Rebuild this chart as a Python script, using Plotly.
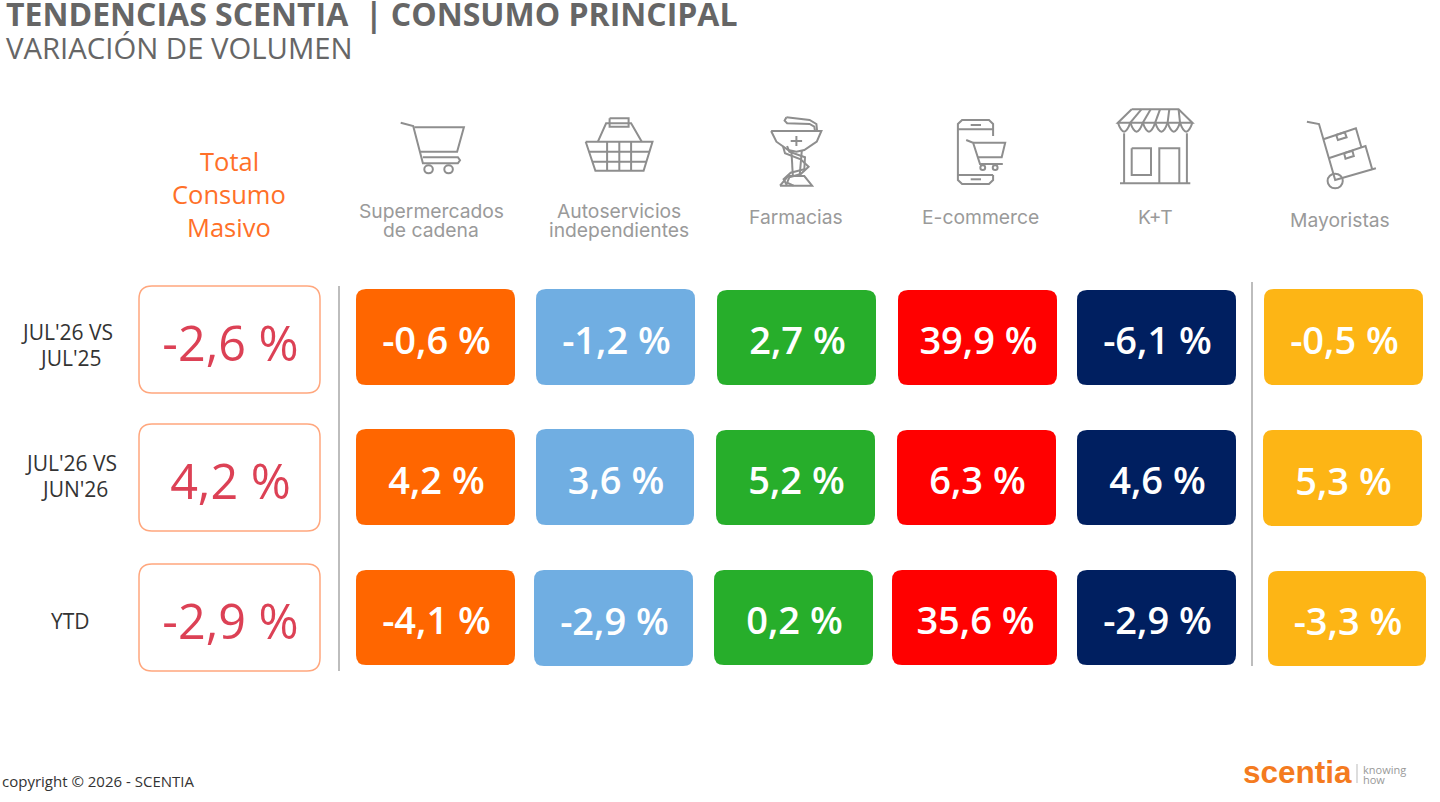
import plotly.graph_objects as go

# --- DATOS ---
periodos = [["JUL'26 VS", "JUL'25"], ["JUL'26 VS", "JUN'26"], ["YTD"]]
canales = [["Supermercados", "de cadena"], ["Autoservicios", "independientes"], ["Farmacias"],
           ["E-commerce"], ["K+T"], ["Mayoristas"]]
total_consumo = [-2.6, 4.2, -2.9]
supermercados = [-0.6, 4.2, -4.1]
autoservicios = [-1.2, 3.6, -2.9]
farmacias = [2.7, 5.2, 0.2]
ecommerce = [39.9, 6.3, 35.6]
kioscos = [-6.1, 4.6, -2.9]
mayoristas = [-0.5, 5.3, -3.3]

# --- GEOMETRIA DE LA LAMINA (pixeles) ---
ANCHO, ALTO = 1440, 802
colores = ["#FF6600", "#70AEE2", "#27AE2B", "#FF0000", "#001F60", "#FDB515"]
cajas_total = [(139, 320, 286, 393), (139, 320, 424, 531), (139, 320, 564, 671)]
cajas = [
    [(356, 515, 289, 385), (356, 515, 429, 525), (356, 515, 570, 665)],
    [(536, 695, 289, 385), (536, 694, 429, 525), (534, 693, 570, 666)],
    [(717, 876, 290, 385), (716, 875, 430, 525), (714, 873, 570, 665)],
    [(898, 1057, 290, 385), (897, 1056, 430, 525), (892, 1057, 570, 665)],
    [(1077, 1236, 290, 385), (1077, 1236, 430, 525), (1077, 1236, 570, 665)],
    [(1264, 1423, 289, 385), (1263, 1422, 430, 526), (1268, 1426, 571, 666)],
]
GRIS_ICONO = "#8E8E8E"
FUENTE = "Open Sans"


def fmt(v):
    return f"{v:.1f}".replace(".", ",") + " %"


def caja_path(x0, x1, y0, y1, r):
    return (f"M{x0 + r},{y0} L{x1 - r},{y0} Q{x1},{y0} {x1},{y0 + r} L{x1},{y1 - r} Q{x1},{y1} {x1 - r},{y1} "
            f"L{x0 + r},{y1} Q{x0},{y1} {x0},{y1 - r} L{x0},{y0 + r} Q{x0},{y0} {x0 + r},{y0} Z")


fig = go.Figure()


def agregar_caja(caja, r, relleno, borde, ancho):
    fig.add_shape(type="path", path=caja_path(*caja, r), fillcolor=relleno,
                  line=dict(color=borde, width=ancho), layer="below")


def texto(x, y, t, size, color, anchor="center", weight=400, familia=FUENTE):
    fig.add_annotation(x=x, y=y, text=t, showarrow=False, xanchor=anchor, yanchor="middle",
                       font=dict(family=familia, size=size, color=color, weight=weight))


def trazos(lineas, ox, oy, sx, sy, ancho=2):
    for pts in lineas:
        p = "M" + " L".join(f"{ox + x / sx:.1f},{oy + y / sy:.1f}" for x, y in pts)
        fig.add_shape(type="path", path=p, line=dict(color=GRIS_ICONO, width=ancho), layer="below")


def circulo(cx, cy, r, ox, oy, sx, sy, ancho=2):
    x, y, rx, ry = ox + cx / sx, oy + cy / sy, r / sx, r / sy
    k = 0.55
    p = (f"M{x - rx},{y} C{x - rx},{y - k * ry} {x - k * rx},{y - ry} {x},{y - ry} "
         f"C{x + k * rx},{y - ry} {x + rx},{y - k * ry} {x + rx},{y} "
         f"C{x + rx},{y + k * ry} {x + k * rx},{y + ry} {x},{y + ry} "
         f"C{x - k * rx},{y + ry} {x - rx},{y + k * ry} {x - rx},{y} Z")
    fig.add_shape(type="path", path=p, line=dict(color=GRIS_ICONO, width=ancho), layer="below")


Z1 = (340, 100, 2.8, 3)
Z2 = (900, 100, 2.9, 3)

# carrito
trazos([[(170, 68), (205, 78), (232, 190), (330, 190), (336, 181), (330, 172), (232, 172)],
        [(208, 82), (347, 82), (328, 155), (224, 155)]], *Z1)
circulo(248, 208, 12, *Z1)
circulo(304, 208, 12, *Z1)
# canasta
trazos([[(722, 125), (745, 70), (815, 70), (845, 125)],
        [(755, 55), (808, 55), (808, 80), (755, 80), (755, 55)],
        [(688, 125), (875, 125), (850, 212), (715, 212), (688, 125)],
        [(697, 155), (866, 155)], [(706, 185), (858, 185)],
        [(748, 125), (748, 212)], [(782, 125), (782, 212)], [(815, 125), (815, 212)]], *Z1)
# farmacia
trazos([[(1207, 93), (1348, 93), (1335, 125), (1300, 150), (1278, 155), (1255, 150), (1222, 125), (1207, 93)],
        [(1264, 152), (1268, 230)], [(1293, 152), (1287, 230)],
        [(1232, 257), (1255, 228), (1300, 228), (1322, 257), (1232, 257)],
        [(1278, 108), (1278, 138)], [(1262, 123), (1294, 123)],
        [(1250, 52), (1245, 62), (1252, 70), (1315, 72), (1328, 80), (1330, 93)],
        [(1250, 52), (1315, 60), (1334, 72), (1336, 93)],
        [(1240, 138), (1246, 160), (1290, 178), (1312, 200), (1290, 222), (1258, 232), (1252, 248), (1270, 257)],
        [(1252, 138), (1258, 155), (1302, 172), (1300, 208), (1262, 218), (1242, 238), (1252, 257)]], *Z1)
# telefono con carrito
trazos([[(270, 108), (270, 72), (258, 60), (180, 60), (168, 72), (168, 240), (180, 252), (258, 252),
         (270, 240), (270, 225)],
        [(168, 88), (270, 88)], [(168, 225), (270, 225)], [(205, 75), (235, 75)], [(205, 238), (235, 238)],
        [(192, 120), (212, 128), (232, 192), (298, 192)], [(212, 128), (305, 128), (295, 172), (225, 172)]], *Z2)
circulo(240, 203, 7, *Z2)
circulo(276, 203, 7, *Z2)
# tienda
trazos([[(672, 28), (808, 28), (848, 68), (632, 68), (672, 28)],
        [(700, 28), (668, 68)], [(727, 28), (704, 68)], [(754, 28), (740, 68)], [(781, 28), (776, 68)],
        [(808, 28), (812, 68)],
        [(650, 100), (650, 250)], [(832, 100), (832, 250)], [(638, 250), (842, 250)],
        [(672, 145), (728, 145), (728, 225), (672, 225), (672, 145)],
        [(752, 250), (752, 145), (810, 145), (810, 250)]], *Z2)
for i in range(6):
    x_tol = 632 + i * 36
    fig.add_shape(type="path",
                  path=f"M{900 + x_tol / 2.9:.1f},{100 + 68 / 3:.1f} Q{900 + (x_tol + 18) / 2.9:.1f},{100 + 122 / 3:.1f} "
                       f"{900 + (x_tol + 36) / 2.9:.1f},{100 + 68 / 3:.1f}",
                  line=dict(color=GRIS_ICONO, width=2), layer="below")
# carretilla
trazos([[(1180, 65), (1215, 72), (1262, 240), (1380, 205)],
        [(1243, 175), (1350, 138), (1370, 210)],
        [(1228, 118), (1322, 85), (1338, 142)],
        [(1265, 105), (1290, 97), (1295, 112), (1270, 120), (1265, 105)],
        [(1288, 160), (1312, 152), (1316, 168), (1292, 176), (1288, 160)]], *Z2)
circulo(1262, 243, 22, *Z2)

# Cajas del total y de los canales
for caja in cajas_total:
    agregar_caja(caja, 13, "#FFFFFF", "#FFA77E", 1.5)
for j, fila_cajas in enumerate(cajas):
    for caja in fila_cajas:
        agregar_caja(caja, 10, colores[j], colores[j], 0)

# Separadores
fig.add_shape(type="line", x0=339, x1=339, y0=286, y1=671, line=dict(color="#BDBDBD", width=2))
fig.add_shape(type="line", x0=1252, x1=1252, y0=282, y1=666, line=dict(color="#BDBDBD", width=2))

# Valores
fig.add_trace(go.Scatter(
    x=[(c[0] + c[1]) / 2 + 1 for c in cajas_total], y=[(c[2] + c[3]) / 2 + 9 for c in cajas_total],
    text=[fmt(v) for v in total_consumo], mode="text", hoverinfo="skip", cliponaxis=False,
    textfont=dict(family=FUENTE, size=48.5, color="#DC4155", weight=500)))
for j, serie in enumerate([supermercados, autoservicios, farmacias, ecommerce, kioscos, mayoristas]):
    fig.add_trace(go.Scatter(
        x=[(c[0] + c[1]) / 2 + 1 for c in cajas[j]], y=[(c[2] + c[3]) / 2 + 7 for c in cajas[j]],
        text=[fmt(v) for v in serie], mode="text", hoverinfo="skip", cliponaxis=False,
        textfont=dict(family=FUENTE, size=38, color="#FFFFFF", weight=600)))

# Titulos
texto(4, 13, "TENDENCIAS SCENTIA  | CONSUMO PRINCIPAL", 32, "#666666", "left", 700)
texto(4, 48, "VARIACIÓN DE VOLUMEN", 29.3, "#666666", "left")
texto(0, 781, "copyright © 2026 - SCENTIA", 15, "#333333", "left")

# Encabezados
for y, t in zip([161, 194, 227], ["Total", "Consumo", "Masivo"]):
    texto(229, y, t, 25.5, "#FF7028")
cx_canales = [431, 619, 796, 980, 1155, 1340]
cy_canales = [[211, 230], [211, 230], [217], [217], [217], [220]]
for x, ys, lineas in zip(cx_canales, cy_canales, canales):
    for y, t in zip(ys, lineas):
        texto(x, y, t, 19.3, "#9A9A9A", familia="Inter")

# Periodos
cx_periodos = [[67, 70], [71, 74], [70]]
cy_periodos = [[332, 358], [463, 489], [621]]
for xs, ys, lineas in zip(cx_periodos, cy_periodos, periodos):
    for x, y, t in zip(xs, ys, lineas):
        texto(x, y, t, 21, "#333333")

# Logo
texto(1241, 772, "scentia", 31.5, "#F47B20", "left", 700, "Liberation Sans")
fig.add_shape(type="line", x0=1357, x1=1357, y0=764, y1=783, line=dict(color="#BBBBBB", width=1))
texto(1361, 769, "knowing", 11, "#999999", "left")
texto(1361, 779, "how", 11, "#999999", "left")

fig.update_layout(
    width=ANCHO, height=ALTO, margin=dict(l=0, r=0, t=0, b=0), showlegend=False,
    paper_bgcolor="#FFFFFF", plot_bgcolor="#FFFFFF",
    xaxis=dict(range=[0, ANCHO], visible=False, fixedrange=True),
    yaxis=dict(range=[ALTO, 0], visible=False, fixedrange=True),
)
# sin margen del body para que la lamina quede en 0,0
fig.write_html("out.html", config=dict(displayModeBar=False),
               post_script="document.body.style.margin='0';document.body.style.overflow='hidden';")
